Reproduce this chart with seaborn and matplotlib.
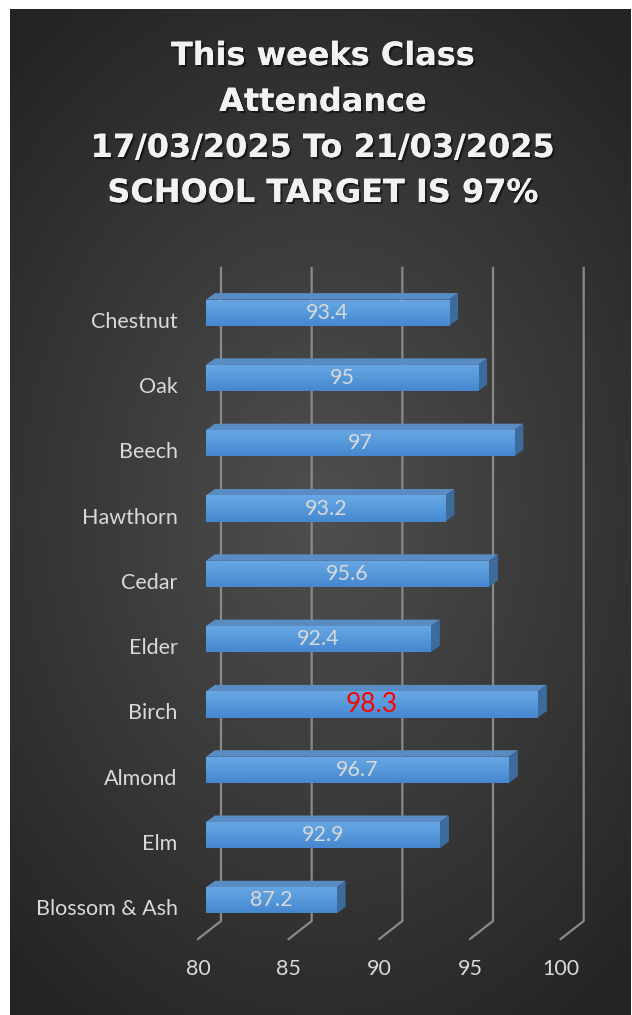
import numpy as np
import pandas as pd
import seaborn as sns
import matplotlib.pyplot as plt
import matplotlib.patheffects as pe
from matplotlib.patches import Polygon
from matplotlib.lines import Line2D
from matplotlib.colors import LinearSegmentedColormap
from matplotlib.transforms import IdentityTransform, ScaledTranslation

# chart data
classes = ["Chestnut", "Oak", "Beech", "Hawthorn", "Cedar", "Elder",
           "Birch", "Almond", "Elm", "Blossom & Ash"]
attendance = [93.4, 95, 97, 93.2, 95.6, 92.4, 98.3, 96.7, 92.9, 87.2]
ticks = [80, 85, 90, 95, 100]
highlight = "Birch"
title_lines = ["This weeks Class", "Attendance",
               "17/03/2025 To 21/03/2025", "SCHOOL TARGET IS 97%"]

df = pd.DataFrame({"class": classes, "attendance": attendance})

W, H = 632, 1015
fig = plt.figure(figsize=(W / 100, H / 100), dpi=100)
fig.patch.set_facecolor("white")

# dark panel with a soft radial glow
bg = fig.add_axes([10 / W, 0, 621 / W, (H - 9) / H])
yy, xx = np.mgrid[0:1:300j, 0:1:200j]
r = np.sqrt(((xx - 0.5) / 0.75) ** 2 + ((yy - 0.5) / 0.62) ** 2)
r = np.clip(r, 0, 1)
inner, outer = np.array([0.31, 0.31, 0.31]), np.array([0.14, 0.14, 0.14])
img = inner[None, None, :] * (1 - r[..., None]) + outer[None, None, :] * r[..., None]
bg.imshow(img, aspect="auto", extent=[0, 1, 0, 1], origin="upper")
bg.set_axis_off()

# main axes = front plane of the bars
ax = fig.add_axes([206 / W, (H - 933) / H, 362.7 / W, 653 / H])
ax.patch.set_alpha(0)
sns.barplot(data=df, x="attendance", y="class", orient="h", color="#5b9bd5",
            saturation=1, width=0.4, ax=ax, zorder=2)

# light-to-dark shading on the front faces
blues = LinearSegmentedColormap.from_list("front", ["#68a7e4", "#5699da", "#4687cf"])
grad = np.linspace(0, 1, 64).reshape(-1, 1)
for bar, v in zip(list(ax.patches), attendance):
    y0 = bar.get_y()
    y1 = y0 + bar.get_height()
    im = ax.imshow(grad, cmap=blues, aspect="auto", extent=[80, v, y1, y0],
                   origin="upper", zorder=2.05)
    im.set_clip_path(bar)

ax.set_xlim(80, 100)
ax.set_ylim(9.5, -0.5)
ax.set_aspect("auto")
for s in ax.spines.values():
    s.set_visible(False)
ax.set_xlabel("")
ax.set_ylabel("")

fig.canvas.draw()
T = ax.transData

# gridlines on the back wall with the floor edge coming forward
back = np.array([15, 12])
front = np.array([-8, -6])
for t in ticks:
    top = T.transform((t, -0.5)) + back
    bot = T.transform((t, 9.5)) + back
    flo = T.transform((t, 9.5)) + front
    ax.add_line(Line2D([top[0], bot[0], flo[0]], [top[1], bot[1], flo[1]],
                       transform=IdentityTransform(), color="#8a8a8a", lw=1.6,
                       zorder=0.5, clip_on=False))

# depth faces of the bars
depth = np.array([9, 6.5])
for bar, v, name in zip(ax.patches[:len(classes)], attendance, classes):
    y0 = bar.get_y()
    y1 = y0 + bar.get_height()
    tl = T.transform((80, y0))
    tr = T.transform((v, y0))
    br = T.transform((v, y1))
    top_face = [tl, tr, tr + depth, tl + depth]
    side_face = [tr, br, br + depth, tr + depth]
    ax.add_patch(Polygon(top_face, closed=True, transform=IdentityTransform(),
                         facecolor="#5a8cc4", edgecolor="none", zorder=1.9, clip_on=False))
    ax.add_patch(Polygon(side_face, closed=True, transform=IdentityTransform(),
                         facecolor="#3c6b9c", edgecolor="none", zorder=1.9, clip_on=False))
    # value label
    yc = (y0 + y1) / 2
    if name == highlight:
        ax.text((80 + v) / 2, yc, f"{v:g}", ha="center", va="center",
                color="#ff0000", fontsize=19, family="Lato", zorder=3)
    else:
        ax.text((80 + v) / 2, yc, f"{v:g}", ha="center", va="center",
                color="#d9d9d9", fontsize=15.5, family="Lato", zorder=3)

# axis labels
ax.set_xticks(ticks)
ax.set_xticklabels([str(t) for t in ticks])
ax.tick_params(axis="both", length=0, colors="#d9d9d9", labelsize=15.5)
ax.tick_params(axis="x", pad=19)
ax.tick_params(axis="y", pad=20.5)
for lab in ax.get_xticklabels():
    lab.set_family("Lato")
    lab.set_transform(lab.get_transform() + ScaledTranslation(-8 / 100, 0, fig.dpi_scale_trans))
for lab in ax.get_yticklabels():
    lab.set_family("Lato")
    lab.set_transform(lab.get_transform() + ScaledTranslation(0, -7 / 100, fig.dpi_scale_trans))

# title, one line at a time on the measured baselines
baselines = [65, 111, 157, 202]
for line, b in zip(title_lines, baselines):
    fig.text(323 / W, 1 - b / H, line, ha="center", va="baseline", fontsize=23,
             fontweight="bold", family="DejaVu Sans", color="#f2f2f2",
             path_effects=[pe.withSimplePatchShadow(offset=(1.5, -1.5),
                                                    shadow_rgbFace="black", alpha=0.5),
                           pe.Normal()])

fig.savefig("out.png", dpi=100)
